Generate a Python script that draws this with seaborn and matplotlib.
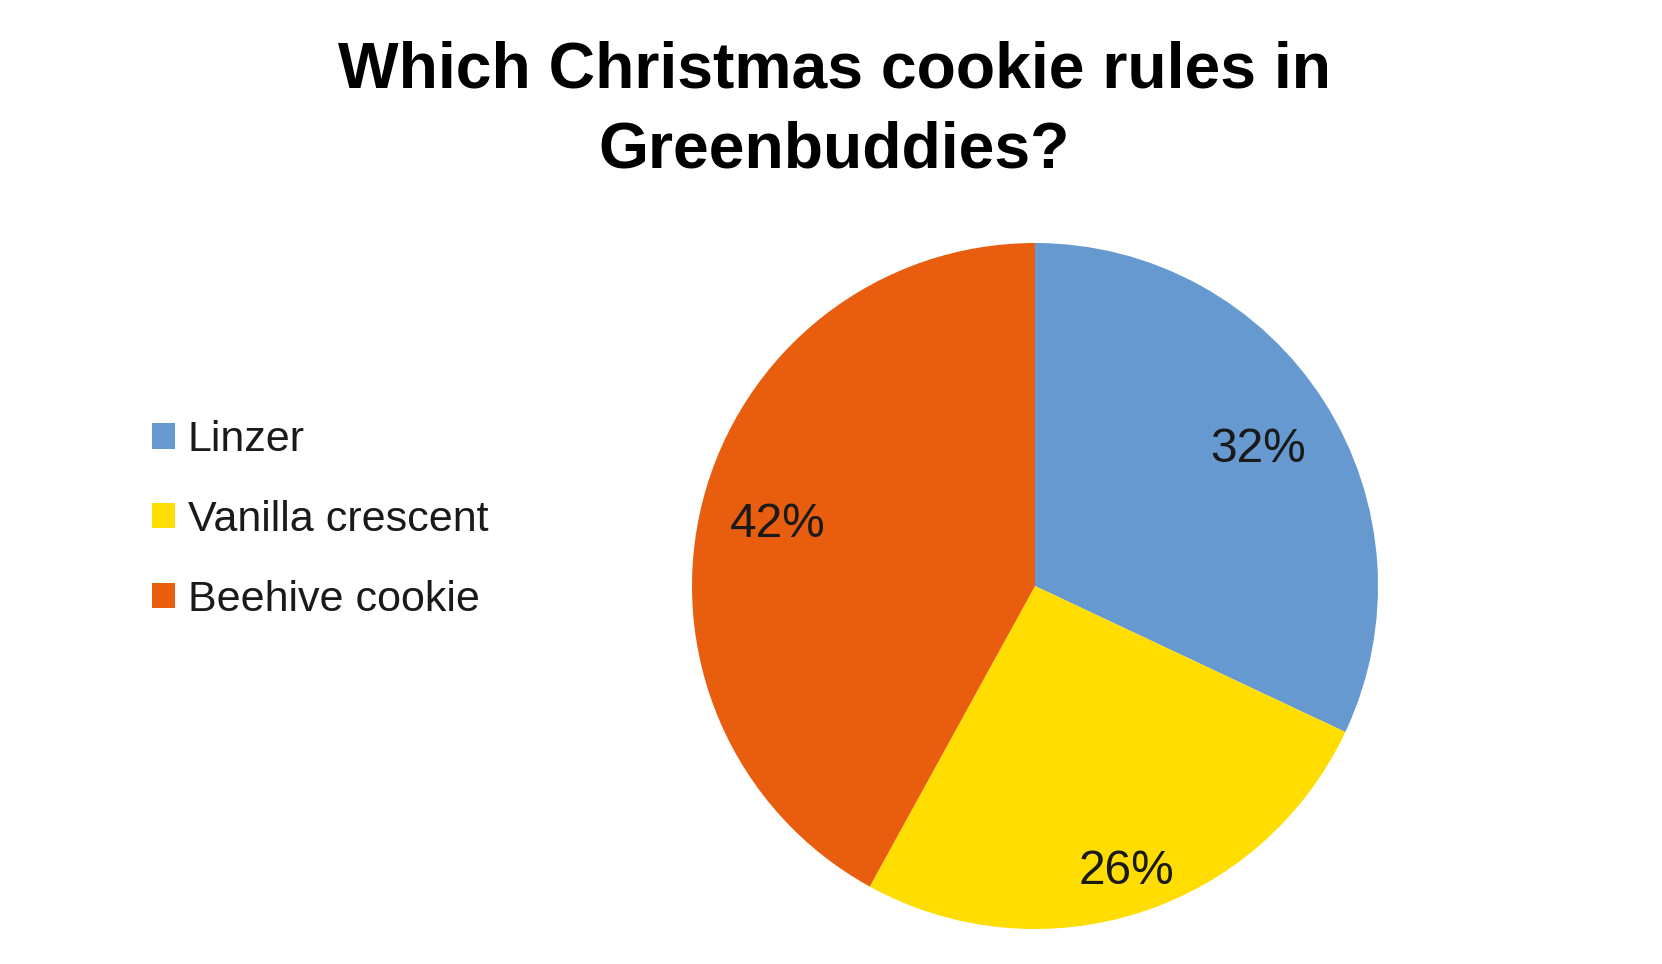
import numpy as np
import matplotlib
matplotlib.use("Agg")
import matplotlib.pyplot as plt
import seaborn as sns
from matplotlib.patches import Patch

# ---- data ----
categories = ["Linzer", "Vanilla crescent", "Beehive cookie"]
shares = [32, 26, 42]
colors = ["#6699D0", "#FFDD00", "#E95D0E"]
label_dist = [0.77, 0.86, 0.775]
title_lines = ["Which Christmas cookie rules in", "Greenbuddies?"]

sns.set_theme(style="white")
plt.rcParams["font.family"] = ["Liberation Sans", "DejaVu Sans"]

W, H = 1662, 964
fig = plt.figure(figsize=(W / 100, H / 100), dpi=100)
fig.patch.set_facecolor("white")

cx, cy, r = 1035, 586, 343
ax = fig.add_axes([(cx - r) / W, (H - cy - r) / H, 2 * r / W, 2 * r / H])
wedges, _ = ax.pie(shares, colors=colors, startangle=90, counterclock=False,
                   radius=1, wedgeprops=dict(linewidth=0))
ax.set_xlim(-1, 1)
ax.set_ylim(-1, 1)
ax.axis("off")

total = float(sum(shares))
start = 90.0
for v, d in zip(shares, label_dist):
    span = 360.0 * v / total
    mid = np.deg2rad(start - span / 2)
    ax.text(d * np.cos(mid), d * np.sin(mid), f"{v}%", ha="center",
            va="center_baseline", fontsize=34.5, color="#1a1a1a")
    start -= span

handles = [Patch(facecolor=c, edgecolor="none") for c in colors]
fig.legend(handles, categories, loc="center left",
           bbox_to_anchor=(152 / W, 1 - 520 / H), frameon=False,
           fontsize=31, handlelength=0.53, handleheight=0.53,
           handletextpad=0.3, labelspacing=0.92, borderpad=0, borderaxespad=0,
           labelcolor="#1a1a1a")

fig.text(0.502, 1 - 88 / H, title_lines[0], ha="center", va="baseline",
         fontsize=46.3, fontweight="bold", color="black")
fig.text(0.502, 1 - 168 / H, title_lines[1], ha="center", va="baseline",
         fontsize=46.3, fontweight="bold", color="black")

fig.savefig("out.png", dpi=100)
